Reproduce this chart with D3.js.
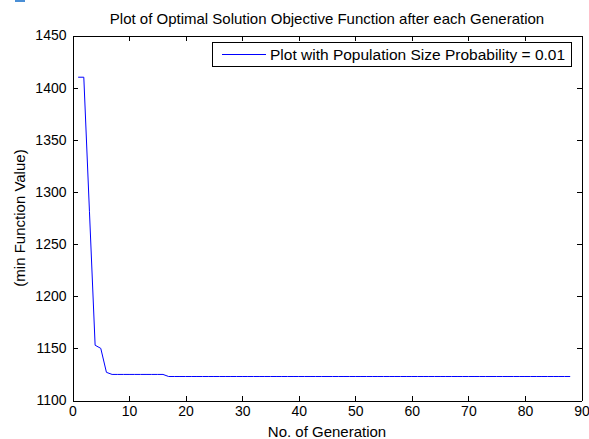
<!DOCTYPE html>
<html>
<head>
<meta charset="utf-8">
<script src="https://cdn.jsdelivr.net/npm/d3@7"></script>
<style>
  body { margin: 0; background: #fff; }
  svg text { font-family: Arial, "Liberation Sans", Helvetica, sans-serif; fill: #000; }
</style>
</head>
<body>
<div class="chart"></div>
<script>
// best objective value after each generation
const generations = d3.range(1, 89);
const minValues = [1410, 1410, 1281, 1153, 1150, 1127]
    .concat(d3.range(7, 17).map(() => 1125))
    .concat(d3.range(17, 89).map(() => 1123));

const xTicks = [0, 10, 20, 30, 40, 50, 60, 70, 80, 90];
const yTicks = [1100, 1150, 1200, 1250, 1300, 1350, 1400, 1450];

const titleText = "Plot of Optimal Solution Objective Function after each Generation";
const xLabelText = "No. of Generation";
const yLabelText = "(min Function Value)";
const legendText = "Plot with Population Size Probability = 0.01";

const width = 589, height = 439;
const plotLeft = 72.5, plotRight = 581.5, plotTop = 35.5, plotBottom = 400.5;
const tickFont = 14;
const labelFont = 15;

const svg = d3.select(".chart").append("svg")
    .attr("width", width)
    .attr("height", height);

svg.append("rect").attr("width", width).attr("height", height).attr("fill", "#fff");

// little blue scrap left over at the top-left of the screenshot
svg.append("rect")
    .attr("x", 15).attr("y", 0).attr("width", 10).attr("height", 2)
    .attr("fill", "#4a8fd6");

const x = d3.scaleLinear().domain([0, 90]).range([plotLeft, plotRight]);
const y = d3.scaleLinear().domain([1100, 1450]).range([plotBottom, plotTop]);

function styleAxis(g) {
    g.attr("shape-rendering", "crispEdges");
    g.select(".domain").attr("stroke", "#000");
    g.selectAll(".tick line").attr("stroke", "#000");
    g.selectAll("text").attr("font-size", tickFont).attr("font-family", null).attr("fill", "#000");
}

// bottom / left with labels, ticks pointing in
svg.append("g")
    .attr("transform", `translate(0,${plotBottom})`)
    .call(d3.axisBottom(x).tickValues(xTicks).tickFormat(d3.format("d"))
        .tickSize(-5).tickSizeOuter(0).tickPadding(6))
    .call(styleAxis);

svg.append("g")
    .attr("transform", `translate(${plotLeft},0)`)
    .call(d3.axisLeft(y).tickValues(yTicks).tickFormat(d3.format("d"))
        .tickSize(-5).tickSizeOuter(0).tickPadding(6))
    .call(styleAxis);

// top / right box edges, ticks only
svg.append("g")
    .attr("transform", `translate(0,${plotTop})`)
    .call(d3.axisTop(x).tickValues(xTicks).tickSize(-5).tickSizeOuter(0).tickFormat(""))
    .call(styleAxis);

svg.append("g")
    .attr("transform", `translate(${plotRight},0)`)
    .call(d3.axisRight(y).tickValues(yTicks).tickSize(-5).tickSizeOuter(0).tickFormat(""))
    .call(styleAxis);

// the curve
const line = d3.line()
    .x((d, i) => x(generations[i]))
    .y(d => y(d));

svg.append("path")
    .datum(minValues)
    .attr("fill", "none")
    .attr("stroke", "#0000ff")
    .attr("stroke-width", 1)
    .attr("d", line);

// legend
const legend = svg.append("g");
legend.append("rect")
    .attr("x", 212.5).attr("y", 42.5)
    .attr("width", 359).attr("height", 24)
    .attr("fill", "#fff").attr("stroke", "#000")
    .attr("shape-rendering", "crispEdges");
legend.append("line")
    .attr("x1", 222).attr("x2", 266)
    .attr("y1", 54.5).attr("y2", 54.5)
    .attr("stroke", "#0000ff");
legend.append("text")
    .attr("x", 270).attr("y", 60)
    .attr("font-size", 15.5)
    .text(legendText);

// titles
svg.append("text")
    .attr("x", (plotLeft + plotRight) / 2).attr("y", 24)
    .attr("text-anchor", "middle")
    .attr("font-size", labelFont)
    .text(titleText);

svg.append("text")
    .attr("x", (plotLeft + plotRight) / 2).attr("y", 437)
    .attr("text-anchor", "middle")
    .attr("font-size", labelFont)
    .text(xLabelText);

svg.append("text")
    .attr("transform", `translate(25,${(plotTop + plotBottom) / 2}) rotate(-90)`)
    .attr("text-anchor", "middle")
    .attr("font-size", labelFont)
    .text(yLabelText);
</script>
</body>
</html>
